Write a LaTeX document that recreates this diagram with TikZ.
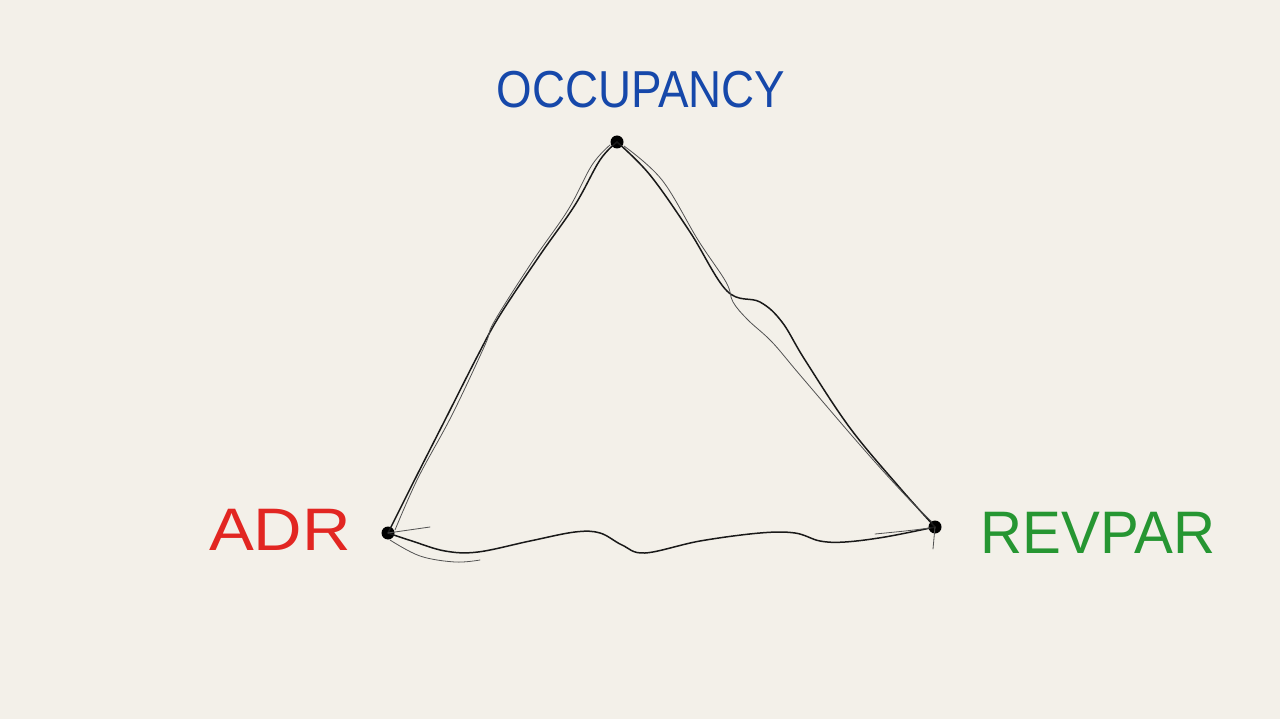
\documentclass[tikz,border=0pt]{standalone}
\usepackage{fontspec}
\setmainfont{Liberation Sans}
\definecolor{paper}{RGB}{243,240,233}
\definecolor{inkblue}{RGB}{22,72,170}
\definecolor{inkred}{RGB}{226,38,34}
\definecolor{inkgreen}{RGB}{38,150,50}
\definecolor{pencil}{RGB}{25,25,25}
\begin{document}
\begin{tikzpicture}[x=1pt,y=-1pt,
  lbl/.style={inner sep=0pt},
  stroke/.style={draw=pencil,line width=1.5pt,line cap=round,line join=round},
  faint/.style={draw=pencil!75,line width=0.8pt,line cap=round},
  vdot/.style={circle,fill=black,inner sep=0pt,minimum size=13pt}]
\fill[paper] (0,0) rectangle (1280,719);
\useasboundingbox (0,0) rectangle (1280,719);
% vertices
\node[vdot] (T) at (617,142) {};
\node[vdot] (L) at (388,533) {};
\node[vdot] (R) at (935,527) {};
% labels
\node[lbl,text=inkblue,xscale=0.88,font=\fontsize{52}{52}\selectfont] (occ) at (641,90) {OCCUPANCY};
\node[lbl,text=inkred,xscale=1.12,font=\fontsize{60}{60}\selectfont] (adr) at (280,530) {ADR};
\node[lbl,text=inkgreen,xscale=0.97,font=\fontsize{60}{60}\selectfont] (rev) at (1098,533) {REVPAR};
% left side
\draw[stroke] plot[smooth,tension=0.6] coordinates {(617,142) (600,160) (575,205) (540,255) (500,315) (478,355) (445,420) (412,485) (388,533)};
\draw[faint] plot[smooth,tension=0.6] coordinates {(610,145) (592,165) (568,210) (532,262) (494,322) (485,345) (452,415) (418,478) (395,530)};
% right side
\draw[stroke] plot[smooth,tension=0.6] coordinates {(617,142) (650,175) (690,232) (727,291) (760,302) (782,322) (805,360) (850,428) (900,488) (935,527)};
\draw[faint] plot[smooth,tension=0.6] coordinates {(624,146) (662,180) (698,240) (726,282) (733,302) (748,320) (772,342) (800,375) (860,445) (905,495) (932,522)};
% bottom
\draw[stroke] plot[smooth,tension=0.6] coordinates {(388,533) (412,541) (445,551) (478,552) (530,541) (575,532) (600,533) (622,545) (645,553) (700,541) (760,533) (795,533) (820,541) (845,542) (885,537) (935,527)};
\draw[faint] plot[smooth,tension=0.6] coordinates {(390,540) (420,556) (455,562) (480,560)};
\draw[faint] plot[smooth,tension=0.6] coordinates {(875,534) (905,531) (930,528)};
\draw[faint] (L.center) -- (430,527);
\draw[faint] (R.center) -- (933,549);
\end{tikzpicture}
\end{document}
